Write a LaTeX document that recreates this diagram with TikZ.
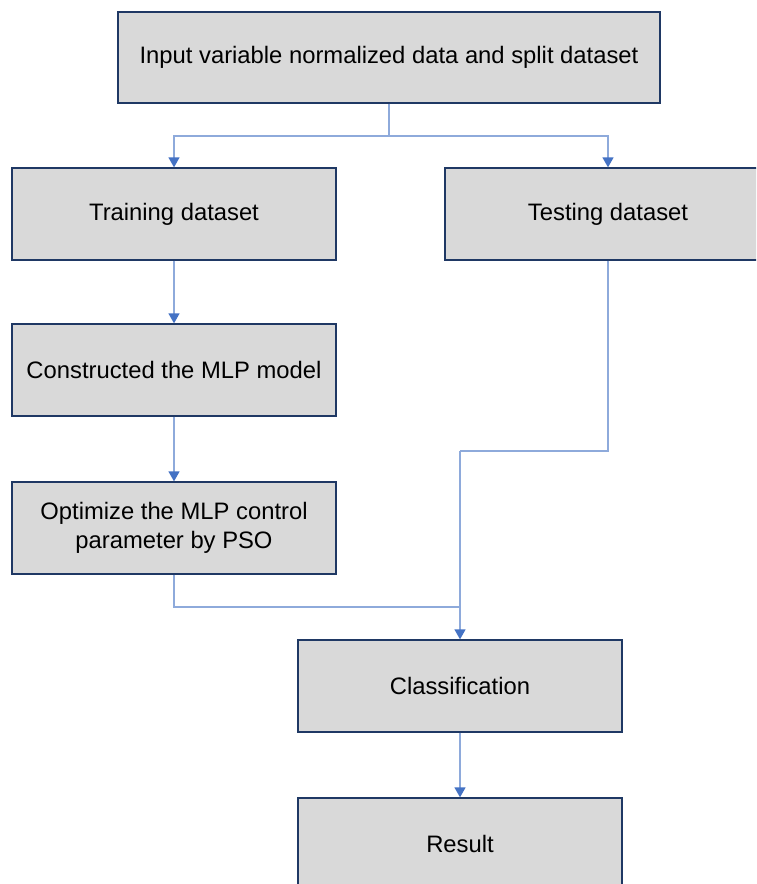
\documentclass[tikz,border=0pt]{standalone}
\usepackage{fontspec}
\setmainfont{Liberation Sans}
\usetikzlibrary{arrows.meta}
\definecolor{boxfill}{HTML}{D9D9D9}
\definecolor{boxline}{HTML}{1F3864}
\definecolor{conn}{HTML}{8EAADB}
\definecolor{tipc}{HTML}{4472C4}
\begin{document}
\begin{tikzpicture}[x=1pt,y=-1pt,
  stepbox/.style={draw=boxline, line width=1.3pt, fill=boxfill, rectangle,
    minimum height=92pt, inner sep=0pt, align=center, text=black,
    font=\fontsize{23.8}{29}\selectfont},
  conline/.style={draw=conn, line width=1.4pt},
  arr/.style={conline, -{Triangle[width=11pt,length=10pt,color=tipc]}}]
\useasboundingbox (0,0) rectangle (756,884);
\clip (0,0) rectangle (756,884);
\node[stepbox, minimum width=542pt, minimum height=91pt] (top) at (389,57.5) {Input variable normalized data and split dataset};
\node[stepbox, minimum width=324pt] (train) at (174,214) {Training dataset};
\node[stepbox, minimum width=326pt] (test) at (608,214) {Testing dataset};
\node[stepbox, minimum width=324pt] (mlp) at (174,370) {Constructed the MLP model};
\node[stepbox, minimum width=324pt] (opt) at (174,528) {Optimize the MLP control\\parameter by PSO};
\node[stepbox, minimum width=324pt] (cls) at (460,686) {Classification};
\node[stepbox, minimum width=324pt] (res) at (460,844) {Result};
\coordinate (split) at (389,136);
\coordinate (j1) at (460,451);
\coordinate (j2) at (460,607);
\draw[conline] (top.south) -- (split);
\draw[arr] (split) -| (train.north);
\draw[arr] (split) -| (test.north);
\draw[arr] (train.south) -- (mlp.north);
\draw[arr] (mlp.south) -- (opt.north);
\draw[conline] (test.south) |- (j1);
\draw[arr] (j1) -- (cls.north);
\draw[conline] (opt.south) |- (j2);
\draw[arr] (cls.south) -- (res.north);
\end{tikzpicture}
\end{document}
